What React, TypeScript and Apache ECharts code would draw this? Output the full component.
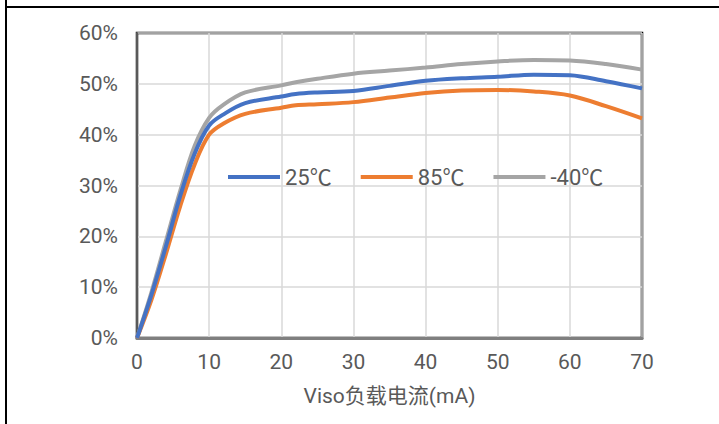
import React, { useEffect, useRef } from "react";
import * as echarts from "echarts";

const loadCurrent = [0, 2, 4, 6, 8, 10, 12, 15, 20, 22, 25, 30, 35, 40, 45, 50, 55, 60, 65, 70];
const eff25 = [0, 8.5, 18, 28, 36.3, 41.8, 44.0, 46.2, 47.5, 48.0, 48.3, 48.6, 49.6, 50.6, 51.1, 51.4, 51.8, 51.7, 50.5, 49.1];
const eff85 = [0, 7.5, 16.5, 26, 34.2, 40.0, 42.2, 44.1, 45.3, 45.8, 46.0, 46.4, 47.3, 48.2, 48.7, 48.8, 48.5, 47.7, 45.6, 43.2];
const effM40 = [0, 9, 19, 29, 37.8, 43.3, 45.9, 48.3, 49.7, 50.3, 51.0, 52.0, 52.6, 53.2, 53.9, 54.4, 54.7, 54.6, 53.9, 52.8];
const seriesNames = ["25℃", "85℃", "-40℃"];
const xAxisName = "Viso负载电流(mA)";

const FONT = "Roboto, 'Noto Sans CJK SC', sans-serif";
const TEXT = "#595959";

export default function App() {
  const ref = useRef<HTMLDivElement>(null);
  useEffect(() => {
    if (!ref.current) return;
    const chart = echarts.init(ref.current, undefined, { renderer: "svg" });
    const pairs = (ys: number[]) => loadCurrent.map((x, i) => [x, ys[i]]);
    const colors = ["#4472C4", "#ED7D31", "#A5A5A5"];
    const all = [eff25, eff85, effM40];
    chart.setOption({
      animation: false,
      backgroundColor: "#ffffff",
      textStyle: { fontFamily: FONT },
      grid: {
        left: 137,
        right: 77,
        top: 33,
        bottom: 86,
        show: true,
        borderColor: "#000000",
        borderWidth: 2.5,
        backgroundColor: "transparent",
      },
      legend: {
        left: 223,
        top: 161,
        icon: "rect",
        itemWidth: 52,
        itemHeight: 4,
        itemGap: 29,
        textStyle: { fontSize: 22, color: TEXT, fontFamily: FONT },
        data: seriesNames,
      },
      xAxis: {
        type: "value",
        min: 0,
        max: 70,
        interval: 10,
        name: xAxisName,
        nameLocation: "middle",
        nameGap: 47,
        nameTextStyle: { fontSize: 21, color: TEXT, fontFamily: FONT },
        axisLine: { show: true, onZero: false, lineStyle: { color: "#7f7f7f", width: 3 } },
        axisTick: { show: false },
        axisLabel: { fontSize: 21, color: TEXT, margin: 13, fontFamily: FONT },
        splitLine: { show: true, lineStyle: { color: "#d9d9d9", width: 1.5 } },
      },
      yAxis: {
        type: "value",
        min: 0,
        max: 60,
        interval: 10,
        axisLine: { show: true, lineStyle: { color: "#595959", width: 2 } },
        axisTick: { show: false },
        axisLabel: { fontSize: 21, color: TEXT, margin: 19, fontFamily: FONT, formatter: "{value}%" },
        splitLine: { show: true, lineStyle: { color: "#d9d9d9", width: 1.5 } },
      },
      series: seriesNames.map((name, i) => ({
        name,
        type: "line",
        data: pairs(all[i]),
        smooth: 0.35,
        showSymbol: false,
        symbol: "none",
        color: colors[i],
        lineStyle: { color: colors[i], width: 4 },
        z: 3 - i,
      })),
      graphic: [
        { type: "line", shape: { x1: 6, y1: 0, x2: 6, y2: 424 }, style: { stroke: "#000", lineWidth: 2 } },
        { type: "line", shape: { x1: 6, y1: 7, x2: 719, y2: 7 }, style: { stroke: "#000", lineWidth: 2 } },
      ],
    });
    return () => chart.dispose();
  }, []);
  return (
    <div
      ref={ref}
      style={{ position: "fixed", left: 0, top: 0, width: 719, height: 424, background: "#fff" }}
    />
  );
}
